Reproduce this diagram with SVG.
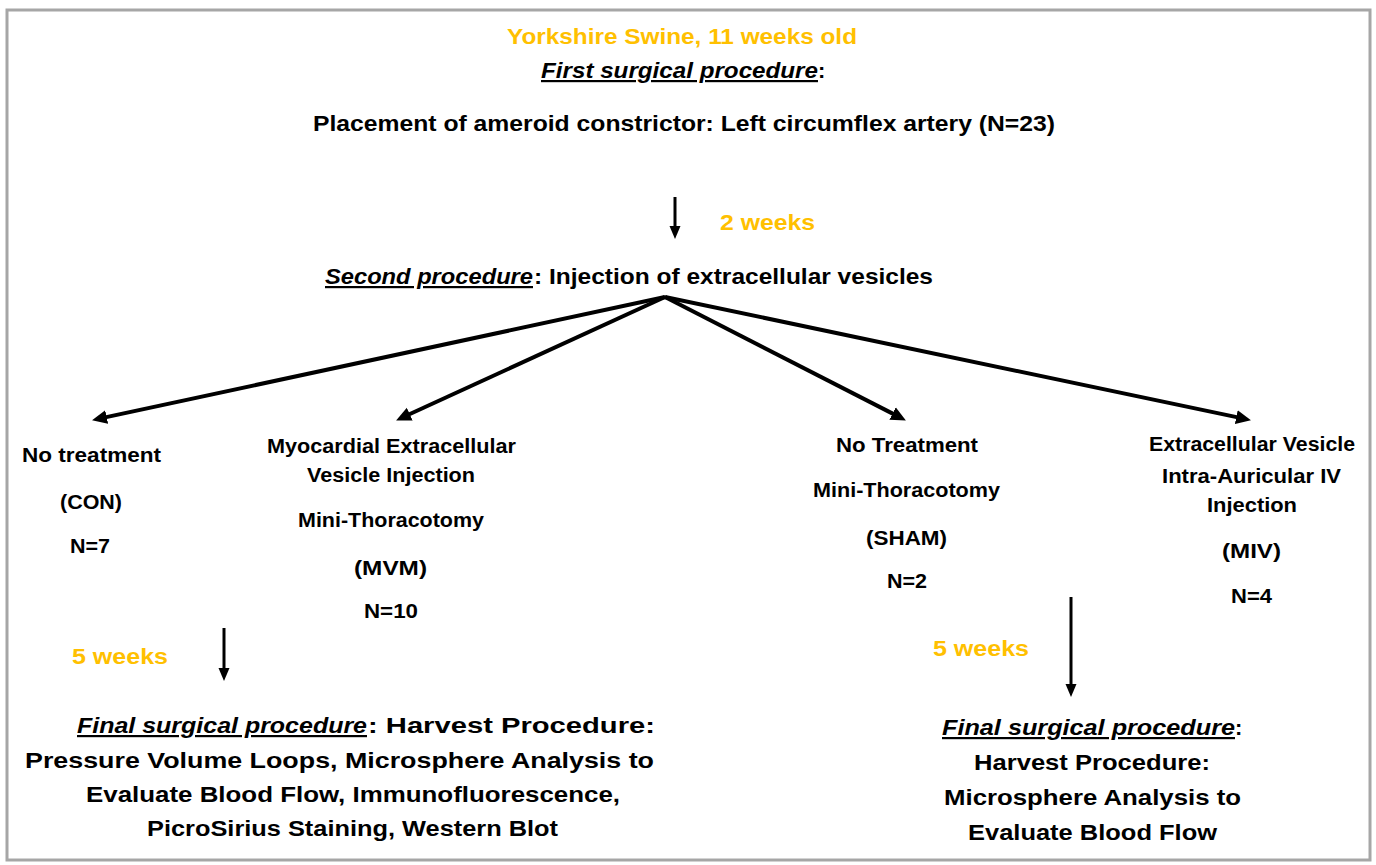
<svg xmlns="http://www.w3.org/2000/svg" width="1376" height="865" viewBox="0 0 1376 865">
<style>
text{font-family:"Liberation Sans",Arial,sans-serif;font-weight:bold;fill:#000;}
.t22{font-size:22px;}
.t20{font-size:20px;}
.or{fill:#FFC000;}
.it{font-style:italic;text-decoration:underline;}
.conn{stroke:#000;fill:none;}
.diag{stroke-width:4;}
.vert{stroke-width:3;}
</style>
<defs>
<marker id="ahBig" markerUnits="userSpaceOnUse" markerWidth="16" markerHeight="16" refX="4" refY="8" orient="auto">
<path d="M0,1 L15,8 L0,15 z" fill="#000"/>
</marker>
<marker id="ahSmall" markerUnits="userSpaceOnUse" markerWidth="14" markerHeight="12" refX="3" refY="6" orient="auto">
<path d="M0,0.5 L13,6 L0,11.5 z" fill="#000"/>
</marker>
</defs>
<rect x="0" y="0" width="1376" height="865" fill="#fff"/>
<rect x="7" y="10" width="1363" height="850" fill="#fff" stroke="#a6a6a6" stroke-width="3"/>

<g id="connectors">
<line class="conn vert" x1="675" y1="197" x2="675" y2="229" marker-end="url(#ahSmall)"/>
<line class="conn diag" x1="665" y1="297" x2="102.8" y2="417.9" marker-end="url(#ahBig)"/>
<line class="conn diag" x1="665" y1="297" x2="406.1" y2="415.8" marker-end="url(#ahBig)"/>
<line class="conn diag" x1="665" y1="297" x2="896.1" y2="415.4" marker-end="url(#ahBig)"/>
<line class="conn diag" x1="665" y1="297" x2="1240.2" y2="417.9" marker-end="url(#ahBig)"/>
<line class="conn vert" x1="224" y1="628" x2="224" y2="671" marker-end="url(#ahSmall)"/>
<line class="conn vert" x1="1071" y1="597" x2="1071" y2="687" marker-end="url(#ahSmall)"/>
</g>

<g id="start">
<text class="t22 or" x="507" y="44" textLength="350" lengthAdjust="spacingAndGlyphs">Yorkshire Swine, 11 weeks old</text>
<text class="t22 it" x="541" y="78" textLength="277" lengthAdjust="spacingAndGlyphs">First surgical procedure</text>
<text class="t22" x="818" y="78">:</text>
<text class="t22" x="313" y="131" textLength="742" lengthAdjust="spacingAndGlyphs">Placement of ameroid constrictor: Left circumflex artery (N=23)</text>
</g>

<g id="interval1">
<text class="t22 or" x="720" y="230" textLength="95" lengthAdjust="spacingAndGlyphs">2 weeks</text>
</g>

<g id="second">
<text class="t22 it" x="325" y="284" textLength="208" lengthAdjust="spacingAndGlyphs">Second procedure</text>
<text class="t22" x="534" y="284" textLength="399" lengthAdjust="spacingAndGlyphs">: Injection of extracellular vesicles</text>
</g>

<g id="con">
<text class="t20" x="22" y="462" textLength="139" lengthAdjust="spacingAndGlyphs">No treatment</text>
<text class="t20" x="60" y="509" textLength="62" lengthAdjust="spacingAndGlyphs">(CON)</text>
<text class="t20" x="70" y="553" textLength="40" lengthAdjust="spacingAndGlyphs">N=7</text>
</g>

<g id="mvm">
<text class="t20" x="267" y="453" textLength="249" lengthAdjust="spacingAndGlyphs">Myocardial Extracellular</text>
<text class="t20" x="307" y="482" textLength="168" lengthAdjust="spacingAndGlyphs">Vesicle Injection</text>
<text class="t20" x="298" y="527" textLength="186" lengthAdjust="spacingAndGlyphs">Mini-Thoracotomy</text>
<text class="t20" x="354" y="575" textLength="73" lengthAdjust="spacingAndGlyphs">(MVM)</text>
<text class="t20" x="364" y="618" textLength="54" lengthAdjust="spacingAndGlyphs">N=10</text>
</g>

<g id="sham">
<text class="t20" x="836" y="452" textLength="142" lengthAdjust="spacingAndGlyphs">No Treatment</text>
<text class="t20" x="813" y="497" textLength="187" lengthAdjust="spacingAndGlyphs">Mini-Thoracotomy</text>
<text class="t20" x="866" y="545" textLength="81" lengthAdjust="spacingAndGlyphs">(SHAM)</text>
<text class="t20" x="887" y="588" textLength="40" lengthAdjust="spacingAndGlyphs">N=2</text>
</g>

<g id="miv">
<text class="t20" x="1149" y="451" textLength="206" lengthAdjust="spacingAndGlyphs">Extracellular Vesicle</text>
<text class="t20" x="1162" y="483" textLength="179" lengthAdjust="spacingAndGlyphs">Intra-Auricular IV</text>
<text class="t20" x="1207" y="512" textLength="90" lengthAdjust="spacingAndGlyphs">Injection</text>
<text class="t20" x="1222" y="558" textLength="59" lengthAdjust="spacingAndGlyphs">(MIV)</text>
<text class="t20" x="1231" y="603" textLength="41" lengthAdjust="spacingAndGlyphs">N=4</text>
</g>

<g id="interval-left">
<text class="t22 or" x="72" y="664" textLength="96" lengthAdjust="spacingAndGlyphs">5 weeks</text>
</g>

<g id="interval-right">
<text class="t22 or" x="933" y="656" textLength="96" lengthAdjust="spacingAndGlyphs">5 weeks</text>
</g>

<g id="final-left">
<text class="t22 it" x="77" y="733" textLength="290" lengthAdjust="spacingAndGlyphs">Final surgical procedure</text>
<text class="t22" x="368" y="733" textLength="287" lengthAdjust="spacingAndGlyphs">:  Harvest Procedure:</text>
<text class="t22" x="25" y="768" textLength="629" lengthAdjust="spacingAndGlyphs">Pressure Volume Loops, Microsphere Analysis to</text>
<text class="t22" x="86" y="802" textLength="534" lengthAdjust="spacingAndGlyphs">Evaluate Blood Flow, Immunofluorescence,</text>
<text class="t22" x="147" y="836" textLength="411" lengthAdjust="spacingAndGlyphs">PicroSirius Staining, Western Blot</text>
</g>

<g id="final-right">
<text class="t22 it" x="942" y="735" textLength="293" lengthAdjust="spacingAndGlyphs">Final surgical procedure</text>
<text class="t22" x="1235" y="735">:</text>
<text class="t22" x="974" y="770" textLength="236" lengthAdjust="spacingAndGlyphs">Harvest Procedure:</text>
<text class="t22" x="944" y="805" textLength="297" lengthAdjust="spacingAndGlyphs">Microsphere Analysis to</text>
<text class="t22" x="968" y="840" textLength="249" lengthAdjust="spacingAndGlyphs">Evaluate Blood Flow</text>
</g>
</svg>
